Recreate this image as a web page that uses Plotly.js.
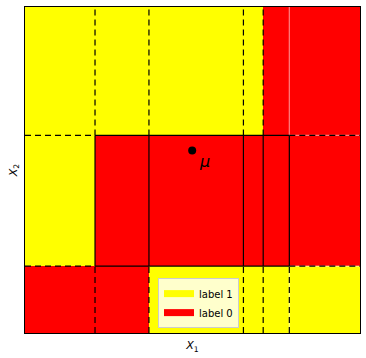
<!DOCTYPE html>
<html>
<head>
<meta charset="utf-8">
<script src="https://cdn.plot.ly/plotly-3.0.1.min.js"></script>
<style>html,body{margin:0;padding:0;background:#fff;}#plot{width:366px;height:358px;}</style>
</head>
<body>
<div id="plot"></div>
<script>
// Region boundaries (data units) and cell labels (rows bottom -> top)
const xEdges = [0, 0.209, 0.370, 0.652, 0.711, 0.789, 1];
const yEdges = [0, 0.205, 0.606, 1];
const cellLabels = [
  [0, 0, 1, 1, 1, 1],
  [1, 0, 0, 0, 0, 0],
  [1, 1, 1, 1, 0, 0]
];
// inner box (solid-bounded rule region)
const boxX = [0.209, 0.789];
const boxY = [0.205, 0.606];
const splitX = [0.370, 0.652, 0.711];
// mean point
const muX = [0.499];
const muY = [0.560];
const muText = ['μ'];
const legendNames = ['label 1', 'label 0'];
const legendColors = ['#ffff00', '#ff0000'];

const traces = [];
traces.push({
  type: 'heatmap', x: xEdges, y: yEdges, z: cellLabels,
  colorscale: [[0, '#ff0000'], [1, '#ffff00']], zmin: 0, zmax: 1,
  showscale: false, hoverinfo: 'skip', showlegend: false
});

function seg(xs, ys, a, b) { xs.push(a[0], b[0], null); ys.push(a[1], b[1], null); }

// light underlay lines outside box on the right
const wx = [], wy = [];
seg(wx, wy, [boxX[1], boxY[1]], [boxX[1], 1]);
seg(wx, wy, [boxX[1], 0], [boxX[1], boxY[0]]);
seg(wx, wy, [boxX[1], boxY[0]], [1, boxY[0]]);
seg(wx, wy, [boxX[1], boxY[1]], [1, boxY[1]]);
traces.push({type: 'scatter', mode: 'lines', x: wx, y: wy, line: {color: 'rgba(255,255,255,0.5)', width: 1.2}, showlegend: false, hoverinfo: 'skip'});

// dashed extension lines
const dx = [], dy = [];
const allX = [boxX[0]].concat(splitX);
allX.forEach(v => { seg(dx, dy, [v, boxY[1]], [v, 1]); });
allX.concat([boxX[1]]).forEach(v => { seg(dx, dy, [v, 0], [v, boxY[0]]); });
boxY.forEach(v => { seg(dx, dy, [0, v], [boxX[0], v]); seg(dx, dy, [boxX[1], v], [1, v]); });
traces.push({type: 'scatter', mode: 'lines', x: dx, y: dy, line: {color: '#000', width: 1.2, dash: '6px,4px'}, showlegend: false, hoverinfo: 'skip'});

// solid box lines
const sx = [], sy = [];
boxY.forEach(v => seg(sx, sy, [boxX[0], v], [boxX[1], v]));
allX.concat([boxX[1]]).forEach(v => seg(sx, sy, [v, boxY[0]], [v, boxY[1]]));
traces.push({type: 'scatter', mode: 'lines', x: sx, y: sy, line: {color: '#000', width: 1.2}, showlegend: false, hoverinfo: 'skip'});

// mean point
traces.push({type: 'scatter', mode: 'markers', x: muX, y: muY, marker: {color: '#000', size: 8}, showlegend: false, hoverinfo: 'skip'});

// legend entries
legendNames.forEach((n, i) => traces.push({
  type: 'scatter', mode: 'lines', x: [null], y: [null], name: n,
  line: {color: legendColors[i], width: 7}
}));

const layout = {
  width: 366, height: 358,
  margin: {l: 25, r: 6, t: 7, b: 25},
  paper_bgcolor: '#fff', plot_bgcolor: '#fff',
  font: {family: 'DejaVu Sans', size: 11, color: '#000'},
  xaxis: {range: [0, 1], showticklabels: false, ticks: '', showgrid: false, zeroline: false,
          showline: true, mirror: true, linecolor: '#000', linewidth: 1,
          title: {text: '<i>X</i><sub>1</sub>', font: {size: 11}, standoff: 8}},
  yaxis: {range: [0, 1], showticklabels: false, ticks: '', showgrid: false, zeroline: false,
          showline: true, mirror: true, linecolor: '#000', linewidth: 1,
          title: {text: '<i>X</i><sub>2</sub>', font: {size: 11}, standoff: 4}},
  legend: {x: 0.397, y: 0.015, xanchor: 'left', yanchor: 'bottom',
           bgcolor: 'rgba(255,255,255,0.8)', bordercolor: '#cccccc', borderwidth: 1,
           font: {size: 10}, itemwidth: 30, tracegroupgap: 0},
  annotations: muText.map((t, i) => ({
    x: muX[i], y: muY[i], xref: 'x', yref: 'y', text: '<i>' + t + '</i>',
    showarrow: false, xshift: 12, yshift: -11, font: {size: 16, color: '#000'}
  }))
};

Plotly.newPlot('plot', traces, layout, {staticPlot: true});
</script>
</body>
</html>
